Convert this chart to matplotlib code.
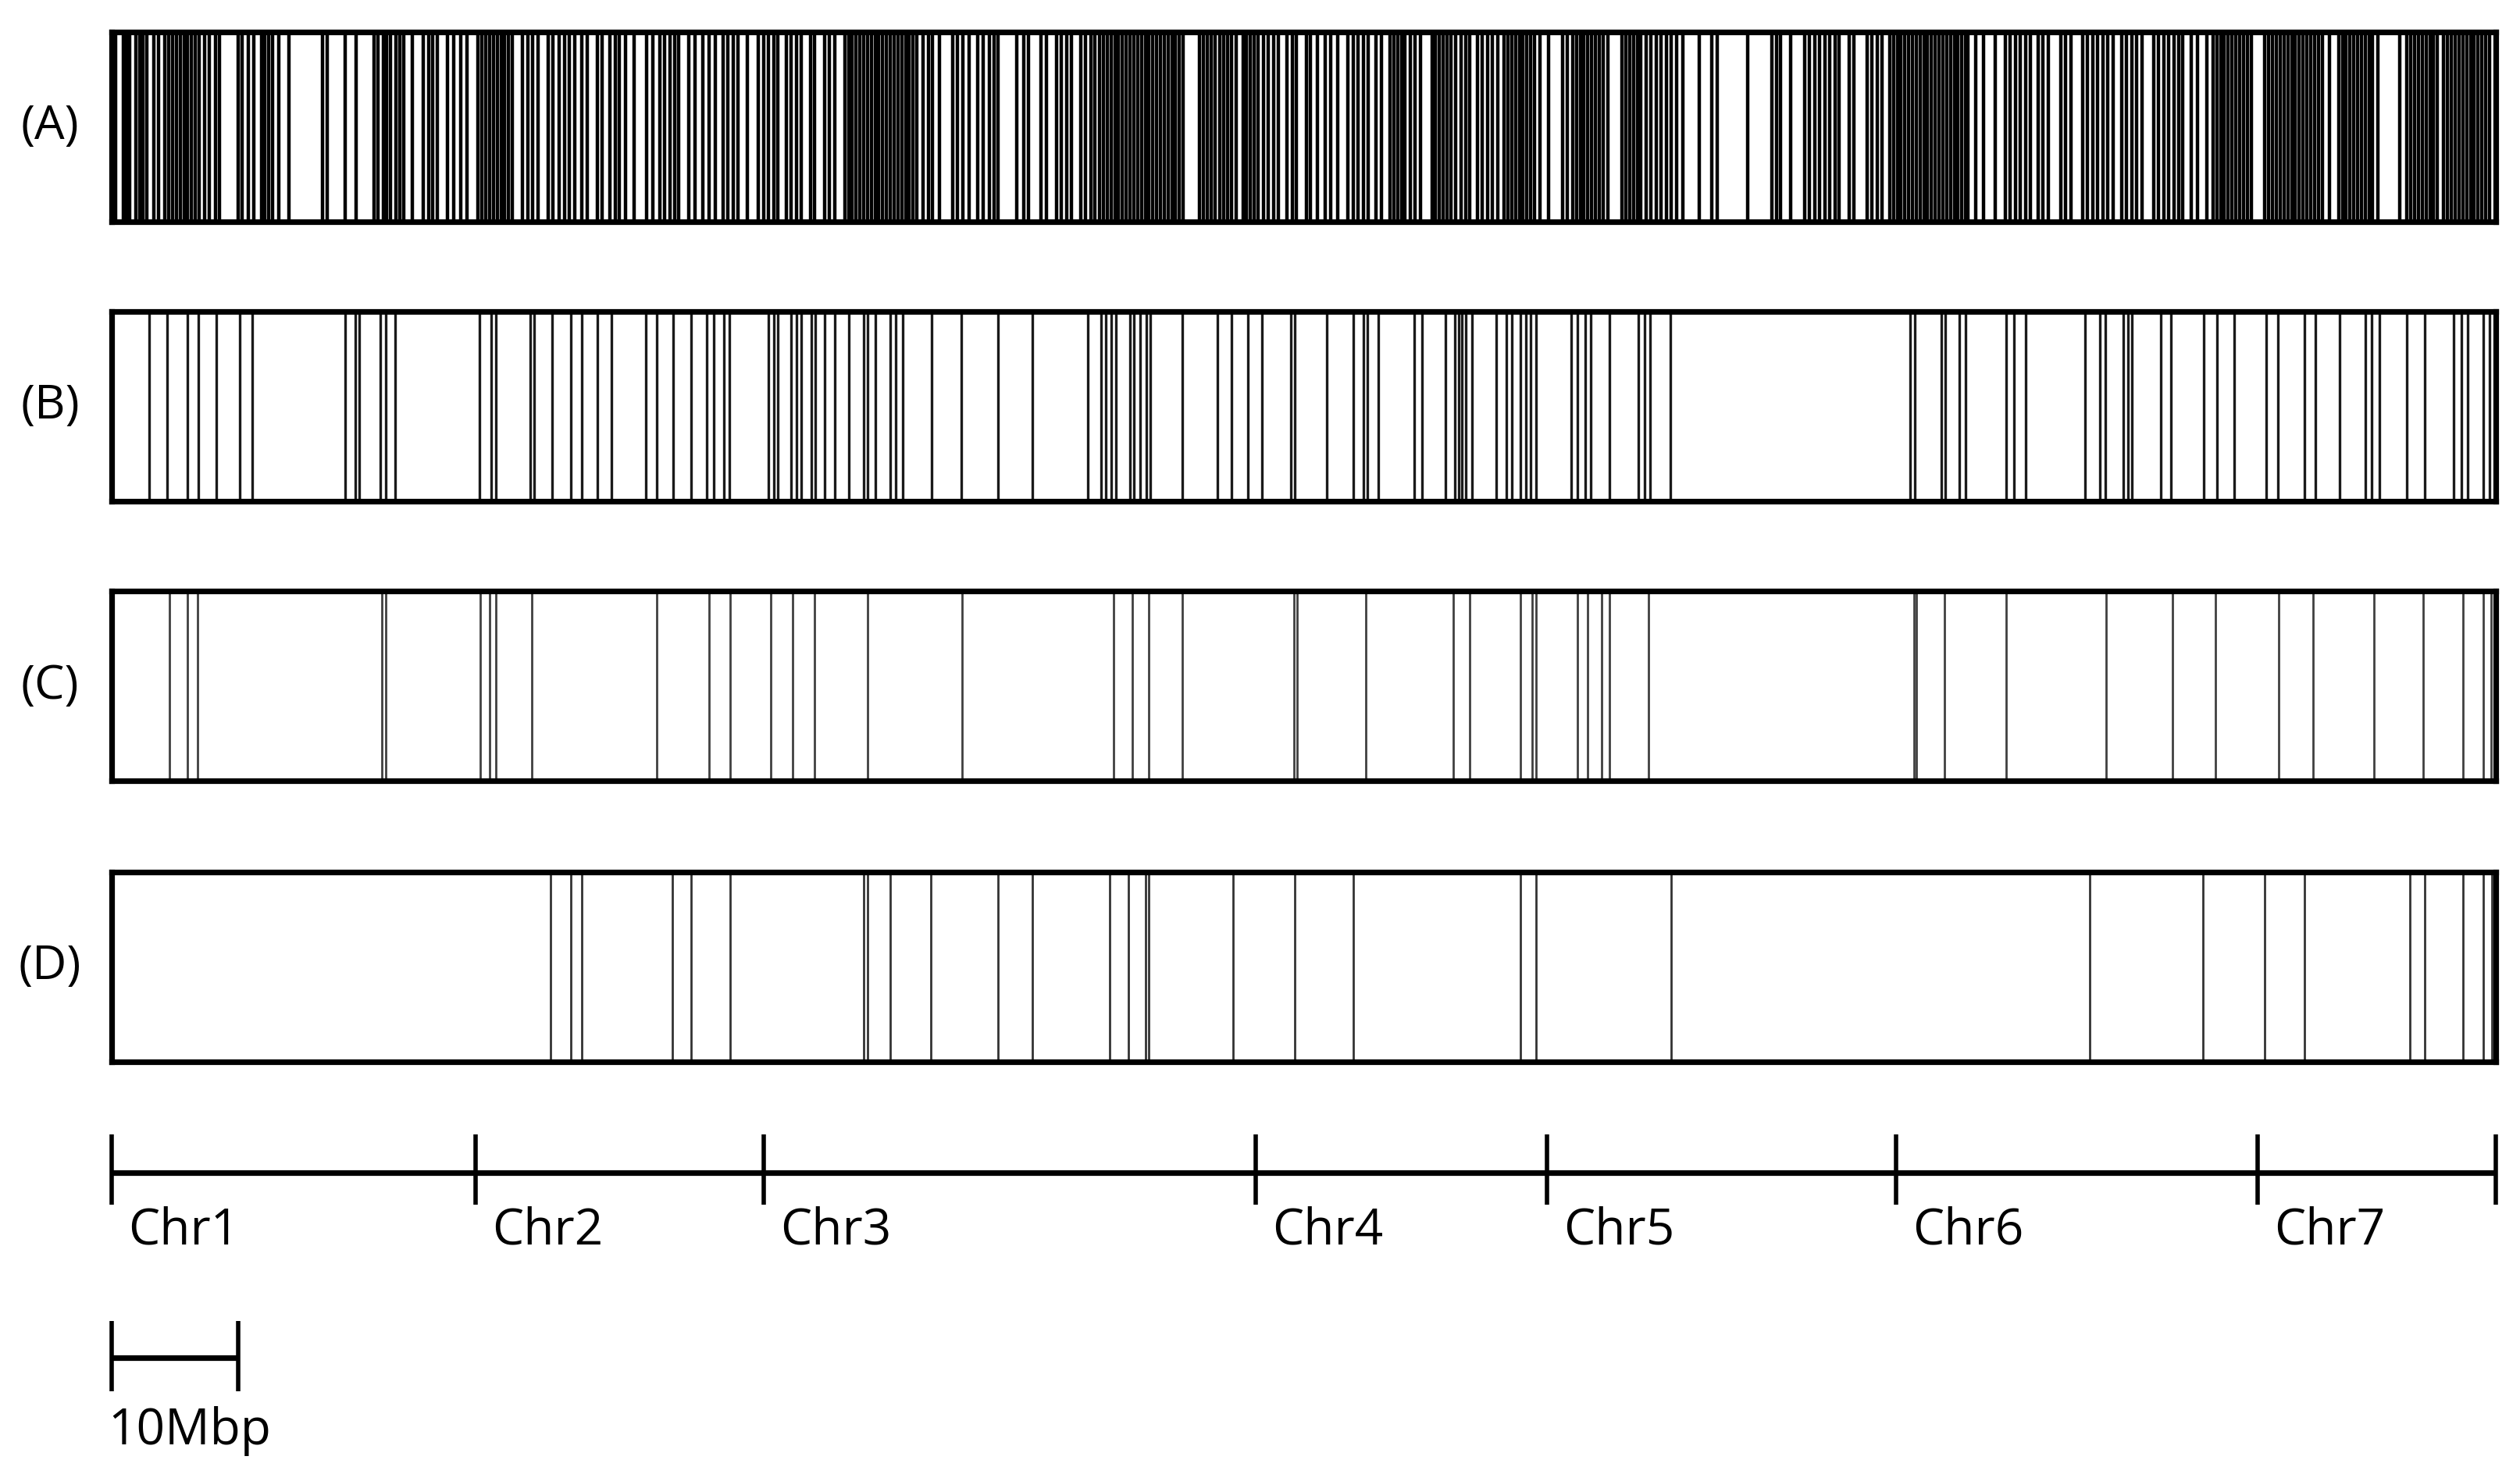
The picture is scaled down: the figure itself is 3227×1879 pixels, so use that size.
import numpy as np
import matplotlib
matplotlib.use('Agg')
import matplotlib.pyplot as plt

plt.rcParams['font.family'] = ['Open Sans', 'DejaVu Sans']

# chromosome sizes (Mbp)
chr_names = ['Chr1', 'Chr2', 'Chr3', 'Chr4', 'Chr5', 'Chr6', 'Chr7']
chr_lengths = [28.7, 22.7, 38.8, 23.0, 27.5, 28.5, 18.8]

panel_labels = ['(A)', '(B)', '(C)', '(D)']

# marker positions along the concatenated genome (Mbp)
pos_a = [0.3, 0.9, 1.15, 1.4, 1.9, 2.2, 2.45, 2.8, 3.35, 3.7, 4.2, 4.5, 4.8, 5.1, 5.4, 5.7,
         6.0, 6.3, 6.6, 6.9, 7.3, 7.7, 8.2, 8.5, 10.0, 10.3, 10.8, 11.2, 11.8, 12.1, 12.4,
         12.7, 13.2, 14.0, 16.6, 17.0, 18.4, 19.3, 20.7, 21.0, 21.4, 21.7, 22.0, 22.4, 22.7,
         23.0, 23.7, 24.6, 25.0, 25.3, 25.7, 26.5, 27.0, 27.5, 28.0, 28.9, 29.2, 29.5, 29.8,
         30.1, 30.4, 30.7, 31.0, 31.3, 31.6, 32.4, 32.8, 33.2, 33.6, 34.4, 34.8, 35.3, 35.7,
         36.1, 36.5, 37.1, 37.5, 38.3, 38.7, 39.3, 39.7, 40.0, 40.5, 41.2, 42.2, 42.7, 43.2,
         43.6, 44.0, 44.4, 44.7, 45.5, 46.0, 46.6, 47.1, 47.6, 48.2, 48.6, 49.0, 49.4, 50.1,
         51.0, 51.4, 51.8, 52.2, 52.5, 53.2, 53.6, 54.0, 54.4, 55.1, 55.4, 56.2, 56.6, 57.0,
         57.8, 58.1, 58.4, 58.7, 59.0, 59.3, 59.6, 59.9, 60.2, 60.5, 60.8, 61.1, 61.4, 61.7,
         62.0, 62.3, 62.6, 62.9, 63.2, 63.5, 64.0, 64.4, 64.7, 65.3, 66.3, 66.7, 67.1, 67.6,
         68.3, 68.7, 69.2, 69.6, 69.9, 71.4, 71.9, 72.3, 73.3, 73.7, 74.5, 74.9, 75.3, 75.7,
         76.4, 76.8, 77.2, 77.5, 77.9, 78.2, 78.5, 78.8, 79.1, 79.4, 79.7, 80.0, 80.3, 80.6,
         80.9, 81.2, 81.5, 81.8, 82.1, 82.4, 82.7, 83.0, 83.3, 83.6, 83.9, 84.2, 84.5, 85.8,
         86.1, 86.4, 86.7, 87.0, 87.4, 87.7, 88.0, 88.3, 88.7, 89.2, 89.5, 89.8, 90.1, 90.4,
         90.8, 91.2, 91.6, 92.0, 92.7, 93.1, 93.4, 94.2, 94.5, 95.1, 95.7, 96.1, 96.7, 97.5,
         97.9, 98.3, 98.7, 99.1, 99.7, 100.1, 100.8, 101.1, 101.4, 101.7, 102.0, 102.4, 102.8,
         103.2, 104.1, 104.4, 104.7, 105.0, 105.3, 105.6, 106.0, 106.4, 106.8, 107.1, 107.7,
         108.1, 108.5, 108.9, 109.3, 109.8, 110.1, 110.4, 110.7, 111.0, 111.3, 111.6, 111.9,
         112.2, 112.6, 113.3, 114.4, 114.8, 115.2, 115.5, 115.8, 116.1, 116.4, 116.7, 117.0,
         117.3, 117.6, 118.0, 119.1, 119.4, 119.7, 120.0, 120.3, 120.6, 121.0, 121.4, 121.8,
         122.2, 122.6, 123.0, 123.4, 123.9, 125.2, 126.2, 126.6, 129.0, 130.9, 131.3, 131.6,
         132.4, 133.5, 133.9, 134.3, 134.7, 135.1, 135.5, 135.9, 136.2, 137.0, 137.4, 138.4,
         138.8, 139.2, 139.6, 140.2, 140.5, 140.8, 141.1, 141.4, 141.7, 142.0, 142.3, 142.6,
         142.9, 143.2, 143.5, 143.8, 144.1, 144.4, 144.7, 145.0, 145.3, 145.6, 145.9, 146.2,
         146.4, 147.0, 147.6, 148.5, 149.3, 149.7, 150.1, 150.5, 150.9, 151.3, 151.9, 152.3,
         152.7, 153.7, 154.1, 154.5, 155.4, 155.8, 156.2, 156.6, 157.0, 157.4, 157.8, 158.5,
         158.9, 159.3, 159.7, 160.1, 161.0, 161.4, 161.8, 162.2, 162.6, 163.0, 163.3, 164.0,
         164.5, 165.2, 165.7, 166.0, 166.3, 166.6, 166.9, 167.2, 167.5, 167.8, 168.1, 168.4,
         168.7, 169.8, 170.1, 170.4, 170.7, 171.0, 171.3, 171.6, 171.9, 172.2, 172.5, 172.8,
         173.1, 173.4, 173.7, 174.0, 174.3, 174.9, 175.6, 175.9, 176.2, 176.5, 176.8, 177.1,
         177.4, 177.7, 178.0, 178.3, 178.7, 180.4, 181.0, 181.3, 181.6, 181.9, 182.2, 182.5,
         182.8, 183.1, 183.4, 183.9, 184.2, 184.5, 184.8, 185.1, 185.4, 185.7, 186.0, 186.3,
         186.6, 186.9, 187.2, 187.5]

pos_b = [2.93, 4.36, 5.99, 6.85, 8.24, 10.1, 11.1, 18.4, 19.2, 19.5, 21.2, 21.6, 22.35, 29.0,
         29.9, 30.3, 33.0, 33.3, 34.7, 36.2, 37.1, 38.3, 39.4, 42.1, 43.0, 44.3, 45.7, 46.9,
         47.5, 48.3, 48.7, 51.8, 52.2, 52.5, 53.6, 54.0, 54.4, 55.2, 55.5, 56.2, 57.0, 58.1,
         59.3, 59.6, 60.2, 61.4, 61.8, 62.4, 64.65, 67.0, 69.9, 72.6, 77.0, 78.0, 78.4, 78.8,
         79.2, 80.3, 80.6, 81.1, 81.6, 81.9, 84.4, 87.2, 88.3, 89.6, 90.7, 93.0, 93.3, 95.8,
         97.9, 98.7, 99.0, 99.9, 102.7, 103.3, 105.2, 105.9, 106.2, 106.5, 106.8, 107.3,
         109.2, 110.0, 110.4, 111.1, 111.5, 111.9, 112.3, 115.1, 115.6, 116.2, 116.6, 118.1,
         120.4, 120.9, 121.3, 122.9, 141.8, 142.2, 144.3, 144.6, 145.7, 146.2, 149.4, 150.0,
         150.9, 155.6, 156.8, 157.2, 158.6, 159.0, 159.3, 161.6, 162.4, 165.0, 166.0, 167.4,
         169.9, 170.8, 172.9, 173.8, 175.7, 177.7, 178.2, 178.8, 181.0, 182.4, 184.7, 185.3,
         185.8, 187.0, 187.5]

pos_c = [4.55, 5.95, 6.8, 21.3, 21.6, 29.05, 29.8, 30.3, 33.1, 43.0, 47.1, 48.8, 52.0, 53.7,
         55.4, 59.6, 67.05, 79.0, 80.5, 81.8, 84.4, 93.2, 93.5, 98.9, 105.8, 107.1, 111.1,
         112.0, 112.3, 115.6, 116.4, 117.5, 118.1, 121.2, 142.1, 142.3, 144.5, 149.4, 157.3,
         162.5, 165.9, 170.9, 173.6, 178.4, 182.3, 185.4, 187.0, 187.6]

pos_d = [34.6, 36.2, 37.1, 44.2, 45.7, 48.8, 59.3, 59.6, 61.4, 64.6, 69.9, 72.6, 78.7, 80.2,
         81.5, 81.8, 88.4, 93.3, 97.9, 111.1, 112.3, 123.0, 156.0, 164.9, 169.8, 172.9,
         181.2, 182.4, 185.4, 187.0, 187.7]

scale_len = 10
scale_label = '10Mbp'

total = sum(chr_lengths)
bounds = np.concatenate([[0], np.cumsum(chr_lengths)])

W, H = 3227, 1879
fig = plt.figure(figsize=(W / 100, H / 100), dpi=100)

left = 143 / W
width = (3196 - 143) / W
strip_tops = [41, 399, 757, 1117]
strip_h = 243
line_w = [3.2, 2.4, 2.0, 2.0]
line_c = ['black', '0.1', '0.25', '0.2']

for i, (label, pos, top) in enumerate(zip(panel_labels, [pos_a, pos_b, pos_c, pos_d], strip_tops)):
    ax = fig.add_axes([left, 1 - (top + strip_h) / H, width, strip_h / H])
    ax.vlines(pos, 0, 1, color=line_c[i], linewidth=line_w[i])
    ax.set_xlim(0, total)
    ax.set_ylim(0, 1)
    ax.set_xticks([])
    ax.set_yticks([])
    for s in ax.spines.values():
        s.set_linewidth(5.2)
    fig.text(64 / W, 1 - (top + strip_h / 2) / H, label,
             ha='center', va='center', fontsize=44)

# chromosome bar and 10 Mbp scale, y given in pixels from the top
ax2 = fig.add_axes([left, 0, width, (H - 1400) / H])
ax2.set_xlim(0, total)
ax2.set_ylim(H, 1400)
ax2.axis('off')

ax2.hlines(1502, 0, total, color='k', linewidth=5.2, clip_on=False)
ax2.vlines(bounds, 1453, 1543, color='k', linewidth=4.0, clip_on=False)
for name, b in zip(chr_names, bounds[:-1]):
    ax2.text(b + 1.3, 1594, name, ha='left', va='baseline', fontsize=46)

ax2.hlines(1739, 0, scale_len, color='k', linewidth=5.2, clip_on=False)
ax2.vlines([0, scale_len], 1692, 1782, color='k', linewidth=4.0, clip_on=False)
ax2.text(-0.3, 1850, scale_label, ha='left', va='baseline', fontsize=46)

fig.savefig('out.png', dpi=100)
